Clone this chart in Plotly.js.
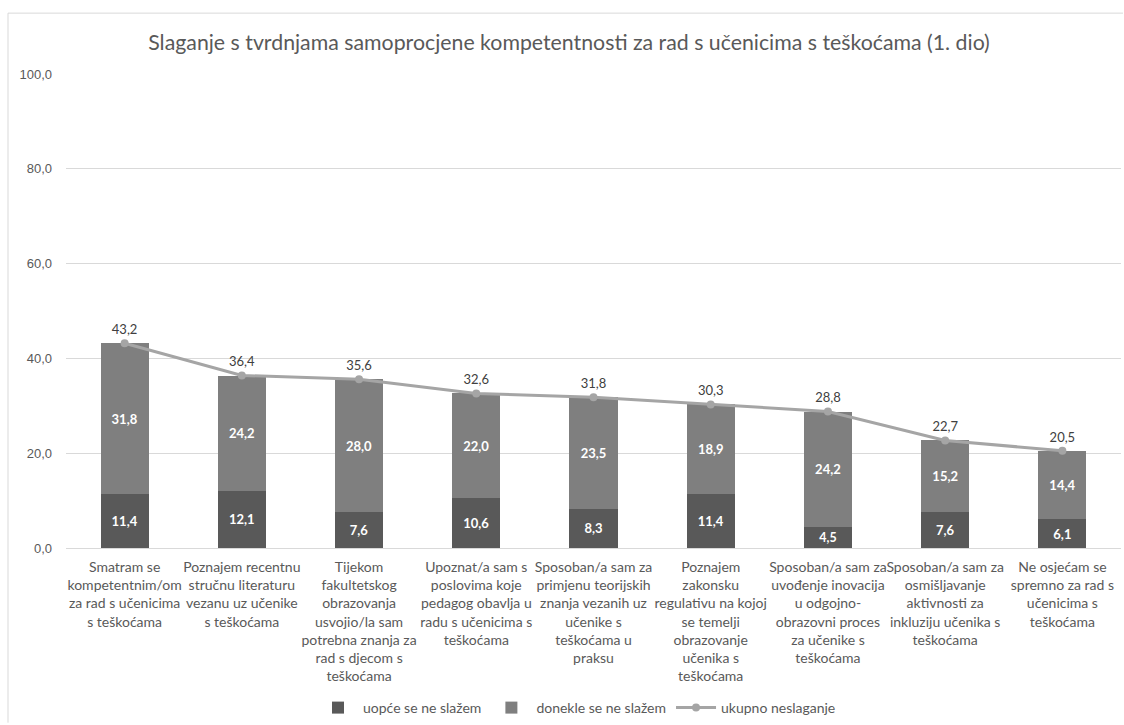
<!DOCTYPE html>
<html><head><meta charset="utf-8">
<script src="https://cdn.plot.ly/plotly-3.0.1.min.js"></script>
<style>html,body{margin:0;padding:0;background:#fff;}#chart{width:1124px;height:725px;}</style>
</head><body><div id="chart"></div>
<script>
const categories = [
  "Smatram se<br>kompetentnim/om<br>za rad s učenicima<br>s teškoćama",
  "Poznajem recentnu<br>stručnu literaturu<br>vezanu uz učenike<br>s teškoćama",
  "Tijekom<br>fakultetskog<br>obrazovanja<br>usvojio/la sam<br>potrebna znanja za<br>rad s djecom s<br>teškoćama",
  "Upoznat/a sam s<br>poslovima koje<br>pedagog obavlja u<br>radu s učenicima s<br>teškoćama",
  "Sposoban/a sam za<br>primjenu teorijskih<br>znanja vezanih uz<br>učenike s<br>teškoćama u<br>praksu",
  "Poznajem<br>zakonsku<br>regulativu na kojoj<br>se temelji<br>obrazovanje<br>učenika s<br>teškoćama",
  "Sposoban/a sam za<br>uvođenje inovacija<br>u odgojno-<br>obrazovni proces<br>za učenike s<br>teškoćama",
  "Sposoban/a sam za<br>osmišljavanje<br>aktivnosti za<br>inkluziju učenika s<br>teškoćama",
  "Ne osjećam se<br>spremno za rad s<br>učenicima s<br>teškoćama"
];
const uopce = [11.4, 12.1, 7.6, 10.6, 8.3, 11.4, 4.5, 7.6, 6.1];
const donekle = [31.8, 24.2, 28.0, 22.0, 23.5, 18.9, 24.2, 15.2, 14.4];
const ukupno = [43.2, 36.4, 35.6, 32.6, 31.8, 30.3, 28.8, 22.7, 20.5];
const seriesNames = ["uopće se ne slažem", "donekle se ne slažem", "ukupno neslaganje"];
const yTicks = [0, 20, 40, 60, 80, 100];

const fmt = v => v.toFixed(1).replace('.', ',');
const FONT = "Lato, 'Liberation Sans', sans-serif";
const L = 66, R = 1121, T = 74, B = 549;
const PW = R - L, PH = B - T;

const traces = [
  {type:'bar', name:seriesNames[0], x:categories, y:uopce,
   marker:{color:'#595959'}, text:uopce.map(fmt), textposition:'inside',
   insidetextanchor:'middle', textangle:0,
   textfont:{color:'#ffffff', size:13, family:FONT, weight:'bold'}, hoverinfo:'y'},
  {type:'bar', name:seriesNames[1], x:categories, y:donekle,
   marker:{color:'#7f7f7f'}, text:donekle.map(fmt), textposition:'inside',
   insidetextanchor:'middle', textangle:0,
   textfont:{color:'#ffffff', size:13, family:FONT, weight:'bold'}, hoverinfo:'y'},
  {type:'scatter', mode:'lines+markers+text', name:seriesNames[2], x:categories, y:ukupno,
   line:{color:'#a5a5a5', width:3}, marker:{color:'#a5a5a5', size:8},
   text:ukupno.map(fmt), textposition:'top center',
   textfont:{color:'#404040', size:13, family:FONT}, cliponaxis:false}
];

const layout = {
  width:1124, height:725,
  margin:{l:L, r:1124-R, t:T, b:725-B},
  paper_bgcolor:'#ffffff', plot_bgcolor:'#ffffff',
  font:{family:FONT, color:'#595959', size:13},
  separators:',.',
  barmode:'stack', bargap:0.59,
  showlegend:true,
  title:{text:'Slaganje s tvrdnjama samoprocjene kompetentnosti za rad s učenicima s teškoćama (1. dio)',
         font:{size:21.3, color:'#595959', family:FONT}, x:569/1124, xanchor:'center', y:1-43/725, yanchor:'middle', yref:'container'},
  xaxis:{tickfont:{size:14, color:'#595959'}, tickangle:0, showgrid:false, showline:false, ticks:'', ticklabelstandoff:9, automargin:false},
  yaxis:{range:[0,100], tickvals:yTicks, tickformat:'.1f', showgrid:true, gridcolor:'#d9d9d9', gridwidth:1,
         zeroline:true, zerolinecolor:'#d9d9d9', zerolinewidth:1, showline:false,
         tickfont:{size:13, color:'#595959', family:"'Liberation Sans', Arial, sans-serif"}, ticks:'', ticklabelstandoff:13, automargin:false, fixedrange:true},
  legend:{orientation:'h', x:(577-L)/PW, xanchor:'center', y:(B-708)/PH, yanchor:'middle',
          font:{size:14, color:'#595959'}, traceorder:'normal', itemwidth:40},
  shapes:[
    {type:'line', xref:'paper', yref:'paper', x0:(8-L)/PW, x1:(1123-L)/PW, y0:(B-13)/PH, y1:(B-13)/PH, line:{color:'#d9d9d9', width:1}},
    {type:'line', xref:'paper', yref:'paper', x0:(8-L)/PW, x1:(8-L)/PW, y0:(B-13)/PH, y1:(B-724)/PH, line:{color:'#d9d9d9', width:1}}
  ]
};

Plotly.newPlot('chart', traces, layout, {displayModeBar:false, staticPlot:true});
</script></body></html>
